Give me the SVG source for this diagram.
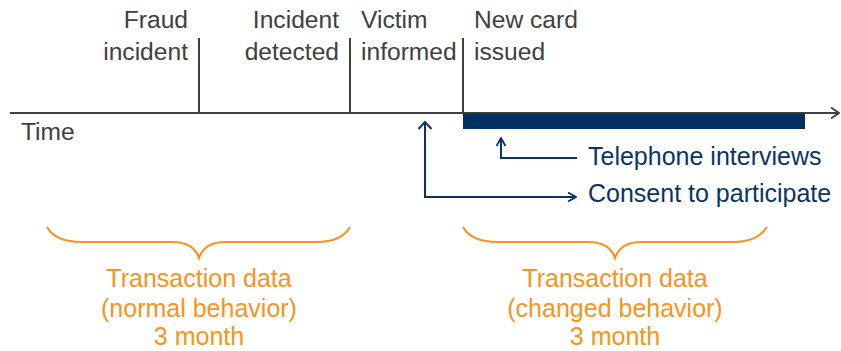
<svg xmlns="http://www.w3.org/2000/svg" width="841" height="351" viewBox="0 0 841 351">
<defs>
<style>
.gray{font-family:"Liberation Sans",Arial,sans-serif;font-size:24.6px;fill:#404040}
.blue{font-family:"Liberation Sans",Arial,sans-serif;font-size:25px;fill:#0b3464}
.orange{font-family:"Liberation Sans",Arial,sans-serif;font-size:25px;fill:#f7941d;text-anchor:middle}
.tick{stroke:#404040;stroke-width:2;fill:none}
.conn{stroke:#0b3464;stroke-width:2;fill:none}
.brace{stroke:#f7941d;stroke-width:2.2;fill:none}
</style>
<marker id="ah" viewBox="0 0 10 10" refX="9" refY="5" markerWidth="10" markerHeight="10" markerUnits="userSpaceOnUse" orient="auto">
<path d="M1,0.5 L9,5 L1,9.5" fill="none" stroke="#0b3464" stroke-width="1.8"/>
</marker>
<marker id="ahg" viewBox="0 0 10 12" refX="9" refY="6" markerWidth="10" markerHeight="12" markerUnits="userSpaceOnUse" orient="auto">
<path d="M1,0.5 L9,6 L1,11.5" fill="none" stroke="#404040" stroke-width="1.8"/>
</marker>
</defs>
<rect width="841" height="351" fill="#ffffff"/>
<g id="timeline">
<line x1="10" y1="113" x2="839" y2="113" stroke="#404040" stroke-width="2" marker-end="url(#ahg)"/>
<text class="gray" x="21" y="140">Time</text>
</g>
<g id="fraud-incident">
<line class="tick" x1="199" y1="38" x2="199" y2="113"/>
<text class="gray" x="188" y="28" text-anchor="end">Fraud</text>
<text class="gray" x="188" y="60" text-anchor="end">incident</text>
</g>
<g id="incident-detected">
<line class="tick" x1="350" y1="38" x2="350" y2="113"/>
<text class="gray" x="339" y="28" text-anchor="end">Incident</text>
<text class="gray" x="339" y="60" text-anchor="end">detected</text>
</g>
<g id="victim-informed">
<text class="gray" x="361" y="28">Victim</text>
<text class="gray" x="361" y="60">informed</text>
</g>
<g id="new-card">
<line class="tick" x1="463" y1="38" x2="463" y2="113"/>
<text class="gray" x="474" y="28">New card</text>
<text class="gray" x="474" y="60">issued</text>
</g>
<g id="interview-period">
<rect x="463" y="113.5" width="342" height="15.5" fill="#003060"/>
</g>
<g id="telephone-interviews">
<text class="blue" x="588" y="165">Telephone interviews</text>
</g>
<g id="consent">
<text class="blue" x="588" y="202">Consent to participate</text>
</g>
<g id="connectors">
<polyline class="conn" points="577,158 501,158 501,138" marker-end="url(#ah)"/>
<polyline class="conn" points="425,122 425,197 576,197" marker-end="url(#ah)"/>
<path class="conn" d="M418.5,129 L425,122 L431.5,129"/>
</g>
<g id="normal-behavior">
<path class="brace" d="M47,227 C52,236 62,242 82,242 L172,242 C189,242 196,249 199,258 C202,249 209,242 226,242 L316,242 C336,242 345,236 350,227"/>
<text class="orange" x="199" y="287">Transaction data</text>
<text class="orange" x="199" y="317">(normal behavior)</text>
<text class="orange" x="199" y="345">3 month</text>
</g>
<g id="changed-behavior">
<path class="brace" d="M463,227 C468,236 478,242 498,242 L588,242 C605,242 612,249 615,258 C618,249 625,242 642,242 L732,242 C752,242 761,236 767,227"/>
<text class="orange" x="615" y="287">Transaction data</text>
<text class="orange" x="615" y="317">(changed behavior)</text>
<text class="orange" x="615" y="345">3 month</text>
</g>
</svg>
